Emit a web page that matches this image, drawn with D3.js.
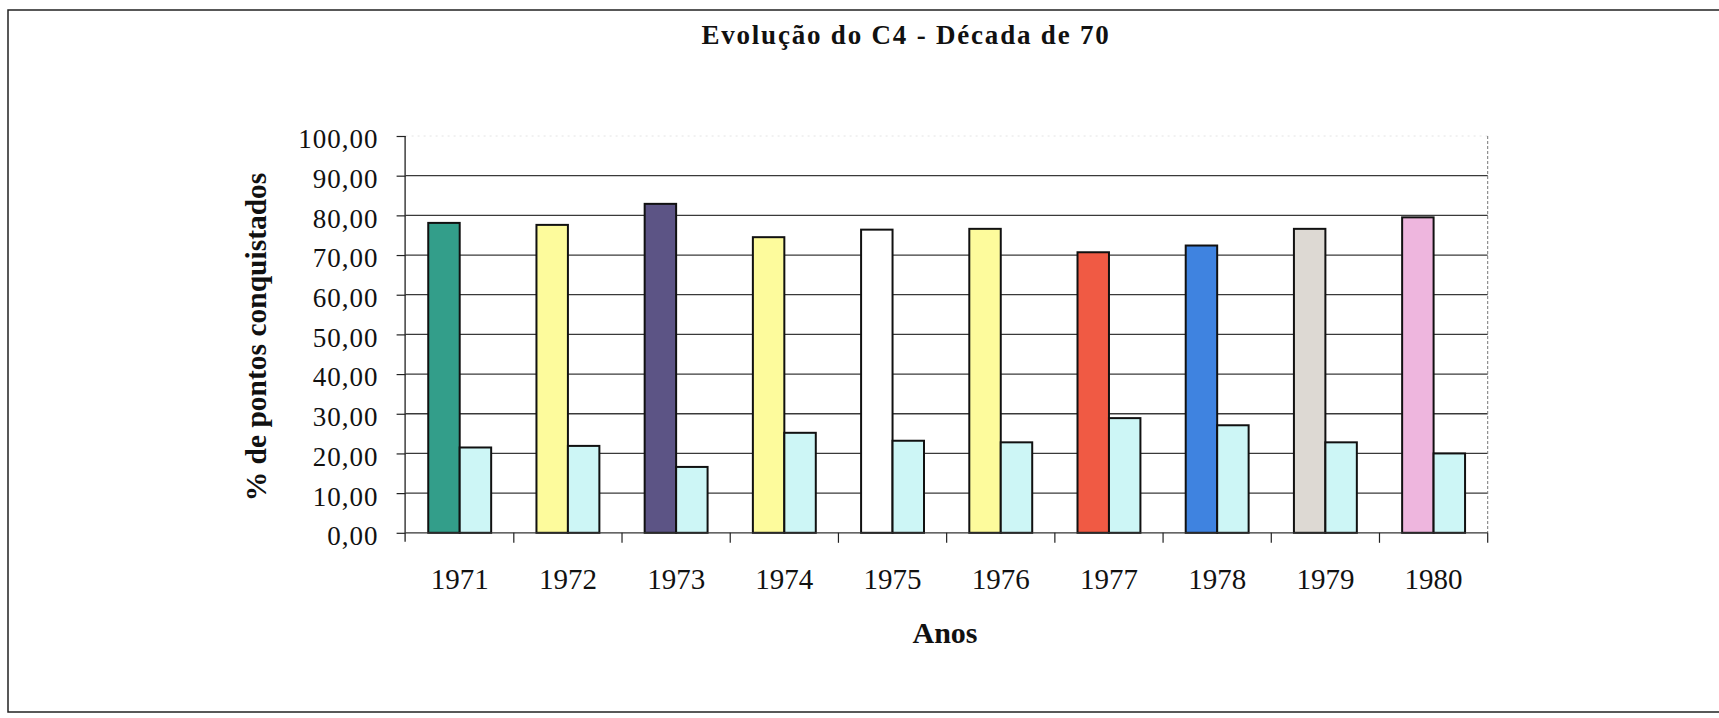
<!DOCTYPE html>
<html>
<head>
<meta charset="utf-8">
<script src="https://cdn.jsdelivr.net/npm/d3@7"></script>
<style>
  body { margin: 0; background: #fff; }
  text { font-family: "Liberation Serif", "Times New Roman", serif; fill: #111; }
</style>
</head>
<body>
<script>
// data
var years = ["1971", "1972", "1973", "1974", "1975", "1976", "1977", "1978", "1979", "1980"]
var c4 = [78.1, 77.6, 82.9, 74.5, 76.4, 76.6, 70.7, 72.4, 76.6, 79.5]
var outros = [21.5, 21.9, 16.6, 25.2, 23.2, 22.8, 28.9, 27.1, 22.8, 20.0]
var yTicks = [0, 10, 20, 30, 40, 50, 60, 70, 80, 90, 100]

// styles
var c4Colors = ["#339e8a", "#fdfb9c", "#5c5485", "#fdfb9c", "#ffffff", "#fdfb9c", "#f05a44", "#3f83e0", "#ddd9d3", "#eeb6de"]
var outrosColor = "#cdf6f6"

var W = 1719, H = 718
var svg = d3.select("body").append("svg").attr("width", W).attr("height", H)

// frame round the whole chart
svg.append("rect")
  .attr("x", 8).attr("y", 10)
  .attr("width", W + 20).attr("height", 702)
  .attr("fill", "none").attr("stroke", "#222").attr("stroke-width", 1.5)

var pLeft = 405.6, pRight = 1487.7, pTop = 136, pBottom = 532.8

var x = d3.scaleBand().domain(years).range([pLeft, pRight]).paddingInner(0).paddingOuter(0)
var x1 = d3.scaleBand().domain(["c4", "outros"]).range([0, x.bandwidth()]).paddingInner(0).paddingOuter(0.72)
var y = d3.scaleLinear().domain([0, 100]).range([pBottom, pTop])

var ptBR = d3.formatLocale({decimal: ",", thousands: ".", grouping: [3], currency: ["", ""]})
var fmt = ptBR.format(".2f")

// gridlines (no line at 100)
svg.append("g").selectAll("line")
  .data(yTicks.filter(function(d) { return d > 0 && d < 100 }))
  .join("line")
  .attr("x1", pLeft).attr("x2", pRight)
  .attr("y1", function(d) { return y(d) }).attr("y2", function(d) { return y(d) })
  .attr("stroke", "#3a3a3a").attr("stroke-width", 1.3)

// faint plot border on top and right
svg.append("line")
  .attr("x1", pLeft).attr("x2", pRight).attr("y1", pTop).attr("y2", pTop)
  .attr("stroke", "#e4e4e4").attr("stroke-width", 1).attr("stroke-dasharray", "2,4")
svg.append("line")
  .attr("x1", pRight).attr("x2", pRight).attr("y1", pTop).attr("y2", pBottom)
  .attr("stroke", "#777").attr("stroke-width", 1).attr("stroke-dasharray", "3,2")

// bars
var groups = svg.append("g").selectAll("g")
  .data(years)
  .join("g")
  .attr("transform", function(d) { return "translate(" + x(d) + ",0)" })

groups.append("rect")
  .attr("x", x1("c4"))
  .attr("width", x1.bandwidth())
  .attr("y", function(d, i) { return y(c4[i]) })
  .attr("height", function(d, i) { return pBottom - y(c4[i]) })
  .attr("fill", function(d, i) { return c4Colors[i] })
  .attr("stroke", "#111").attr("stroke-width", 2)

groups.append("rect")
  .attr("x", x1("outros"))
  .attr("width", x1.bandwidth())
  .attr("y", function(d, i) { return y(outros[i]) })
  .attr("height", function(d, i) { return pBottom - y(outros[i]) })
  .attr("fill", outrosColor)
  .attr("stroke", "#111").attr("stroke-width", 2)

// y axis
var yAxis = svg.append("g")
  .attr("transform", "translate(" + pLeft + ",0)")
  .call(d3.axisLeft(y).tickValues(yTicks).tickFormat(fmt).tickSize(9).tickPadding(18))
yAxis.attr("font-family", null).attr("font-size", null)
yAxis.select(".domain").attr("d", "M-0.5," + pTop + "V" + (pBottom + 9)).attr("stroke", "#222").attr("stroke-width", 1.3)
yAxis.selectAll(".tick line").attr("stroke", "#222").attr("stroke-width", 1.2)
yAxis.selectAll(".tick text")
  .attr("font-size", 27).attr("letter-spacing", "1px")
  .attr("dy", "0.44em").attr("fill", "#111")

// x axis: ticks between categories
svg.append("line")
  .attr("x1", pLeft).attr("x2", pRight).attr("y1", pBottom).attr("y2", pBottom)
  .attr("stroke", "#333").attr("stroke-width", 1.3)
var xAxis = svg.append("g")
xAxis.selectAll("line")
  .data(years)
  .join("line")
  .attr("x1", function(d) { return x(d) + x.bandwidth() }).attr("x2", function(d) { return x(d) + x.bandwidth() })
  .attr("y1", pBottom).attr("y2", pBottom + 10)
  .attr("stroke", "#222").attr("stroke-width", 1.2)
xAxis.selectAll("text")
  .data(years)
  .join("text")
  .attr("x", function(d) { return x(d) + x.bandwidth() / 2 })
  .attr("y", 589)
  .attr("text-anchor", "middle")
  .attr("font-size", 29)
  .text(function(d) { return d })

// titles
svg.append("text")
  .attr("x", 906).attr("y", 44)
  .attr("text-anchor", "middle")
  .attr("font-size", 27).attr("font-weight", "bold").attr("letter-spacing", "1.8px")
  .text("Evolução do C4 - Década de 70")

svg.append("text")
  .attr("x", 945).attr("y", 643)
  .attr("text-anchor", "middle")
  .attr("font-size", 30).attr("font-weight", "bold")
  .text("Anos")

svg.append("text")
  .attr("transform", "translate(266,337) rotate(-90)")
  .attr("text-anchor", "middle")
  .attr("font-size", 29.5).attr("font-weight", "bold")
  .text("% de pontos conquistados")
</script>
</body>
</html>
